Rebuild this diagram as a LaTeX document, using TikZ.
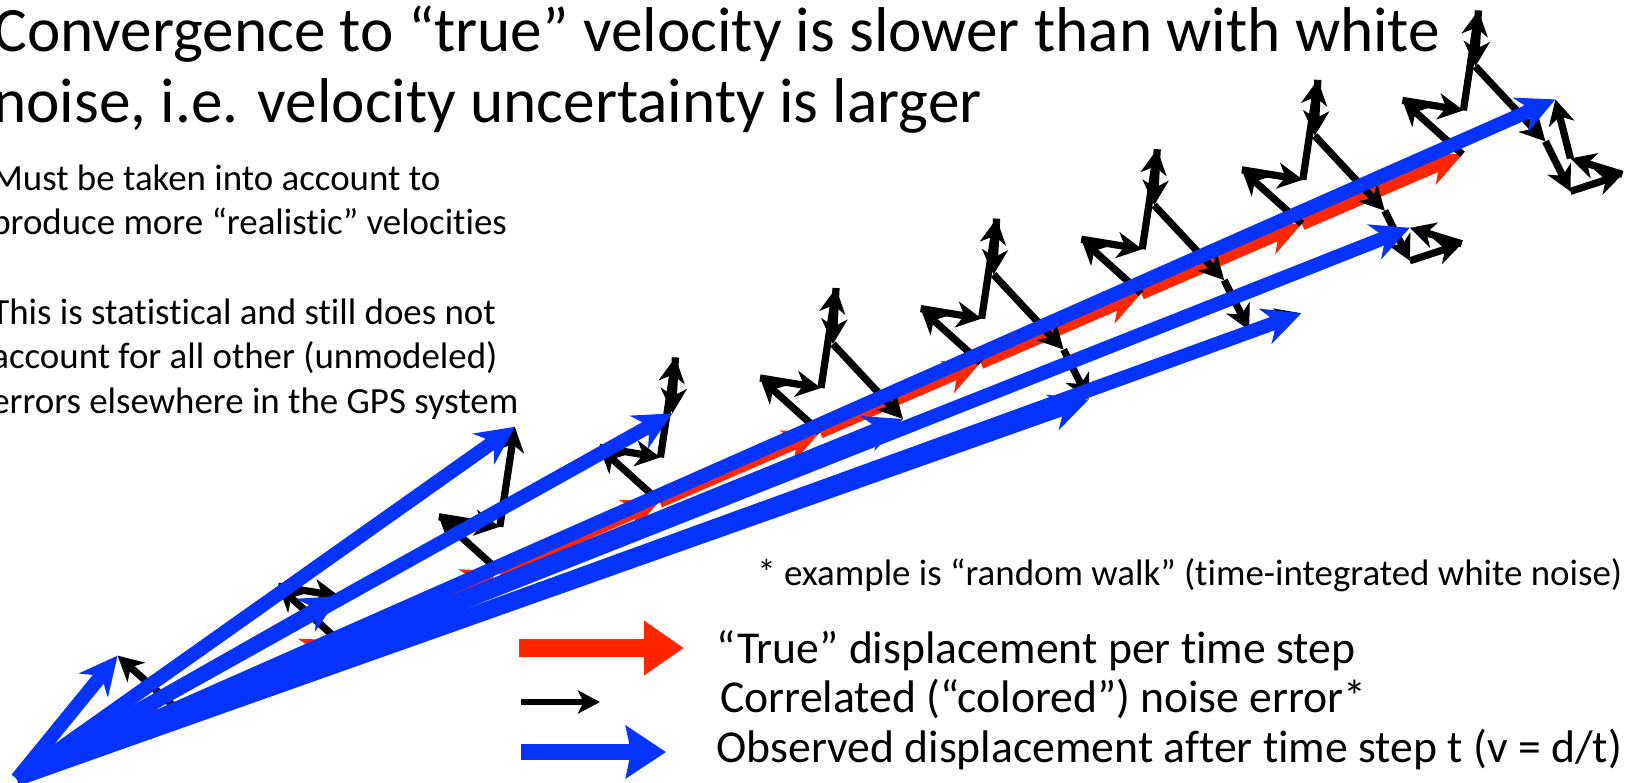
\documentclass[tikz,border=0pt]{standalone}
\usepackage{fontspec}
\setmainfont{Carlito}[Ligatures=NoCommon]
\usepackage{xcolor}
\usetikzlibrary{arrows.meta}
\definecolor{truered}{RGB}{255,38,0}
\definecolor{obsblue}{RGB}{4,51,255}
\newcommand{\titlesize}{\fontsize{36}{40}\selectfont}
\newcommand{\notesize}{\fontsize{21}{25}\selectfont}
\newcommand{\legendsize}{\fontsize{26}{30}\selectfont}

\begin{document}
\begin{tikzpicture}[x=0.2mm,y=-0.2mm,
  txt/.style={anchor=base west,inner sep=0pt},
  truestep/.style={truered,line width=2.6mm,-{Stealth[length=7.2mm,width=6.8mm,inset=2.2mm]}},
  noise/.style={black,line width=1.45mm,-{Stealth[length=5mm,width=5.2mm,inset=1.5mm]}},
  observed/.style={obsblue,line width=2.8mm,-{Stealth[length=7.6mm,width=7.4mm,inset=2.4mm]}}]
\useasboundingbox (0,0) rectangle (1645,782);
\clip (0,0) rectangle (1645,782);
% text on the left
\node[txt,font=\titlesize] (title1) at (-7,52) {Convergence to “true” velocity is slower than with white};
\node[txt,font=\titlesize] (title2) at (-7,122) {noise, i.e. velocity uncertainty is larger};
\node[txt,font=\notesize] (must1) at (-9,190) {Must be taken into account to};
\node[txt,font=\notesize] (must2) at (-9,234) {produce more “realistic” velocities};
\node[txt,font=\notesize] (stat1) at (-9,324) {This is statistical and still does not};
\node[txt,font=\notesize] (stat2) at (-9,368) {account for all other (unmodeled)};
\node[txt,font=\notesize] (stat3) at (-9,413) {errors elsewhere in the GPS system};
\node[txt,font=\notesize] (foot) at (757,585) {* example is “random walk” (time-integrated white noise)};
% true track, one step per time step
\coordinate (p0) at (17,779);
\foreach \k in {1,...,9} \coordinate (p\k) at (17+160.6*\k,779-69.4*\k);
\foreach \k [remember=\k as \j (initially 0)] in {1,...,9} \draw[truestep] (p\j) -- (p\k);
% random walk noise added at each step
\foreach \k in {1,...,9}{
  \coordinate (w) at (p\k);
  \foreach \dx/\dy [count=\j] in {-60/-54,61/10,15/-100,-3/56,70/75,25/50,52/-17,-52/-16,-15/-59}{
    \ifnum\j>\k\relax\else
      \draw[noise] (w) -- ++(\dx,\dy) coordinate (w);
    \fi
  }
  \coordinate (o\k) at (w);
}
% observed displacements
\foreach \k in {1,...,9} \draw[observed] (p0) -- (o\k);
% legend
\coordinate (lt1) at (519,648); \coordinate (lt2) at (684,648);
\coordinate (ln1) at (521,702); \coordinate (ln2) at (600,702);
\coordinate (lo1) at (521,752); \coordinate (lo2) at (666,752);
\draw[truered,line width=3.6mm,-{Triangle[length=8mm,width=10.4mm]}] (lt1) -- (lt2);
\draw[black,line width=1.1mm,-{Stealth[length=4.4mm,width=4.6mm,inset=1.1mm]}] (ln1) -- (ln2);
\draw[obsblue,line width=3.2mm,-{Stealth[length=8mm,width=10.4mm,inset=1mm]}] (lo1) -- (lo2);
\node[txt,font=\legendsize] (lgtrue) at (716,663) {“True” displacement per time step};
\node[txt,font=\legendsize] (lgnoise) at (720,712) {Correlated (“colored”) noise error*};
\node[txt,font=\legendsize] (lgobs) at (716,762) {Observed displacement after time step t (v = d/t)};
\end{tikzpicture}
\end{document}
